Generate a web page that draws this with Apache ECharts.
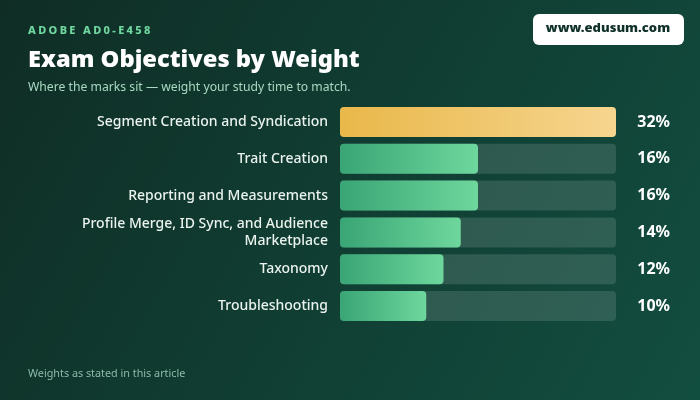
<!DOCTYPE html>
<html><head><meta charset="utf-8">
<script src="https://cdn.jsdelivr.net/npm/echarts@6/dist/echarts.min.js"></script>
<style>html,body{margin:0;padding:0;}#c{width:700px;height:400px;}</style>
</head><body><div id="c"></div>
<script>
const categories = ['Segment Creation and Syndication','Trait Creation','Reporting and Measurements','Profile Merge, ID Sync, and Audience\nMarketplace','Taxonomy','Troubleshooting'];
const weights = [32,16,16,14,12,10];
const percentLabels = ['32%','16%','16%','14%','12%','10%'];
const kicker = 'ADOBE AD0-E458';
const FONT = '"Noto Sans", "Open Sans", sans-serif';

const chart = echarts.init(document.getElementById('c'), null, {renderer:'canvas'});

// letter-spaced kicker
const ctx = document.createElement('canvas').getContext('2d');
ctx.font = '800 11px ' + FONT;
let kx = 28; const kickerEls = [];
for (const ch of kicker) {
  kickerEls.push({type:'text', left: kx, top: 25, style:{text: ch, fill:'#6fd6a0', font:'800 11px ' + FONT}});
  kx += ctx.measureText(ch).width + 2.35;
}

const gold = new echarts.graphic.LinearGradient(0,0,1,0,[{offset:0,color:'#e9b84a'},{offset:1,color:'#f6d58f'}]);
const green = new echarts.graphic.LinearGradient(0,0,1,0,[{offset:0,color:'#3aa575'},{offset:1,color:'#6ed79d'}]);

chart.setOption({
  backgroundColor: new echarts.graphic.LinearGradient(0,0,1,1,[{offset:0,color:'#0f2d25'},{offset:1,color:'#124e40'}]),
  animation:false,
  grid:{left:340, right:84, top:103.6, height:220.8},
  xAxis:{type:'value', min:0, max:32, show:false},
  yAxis:[{
    type:'category', inverse:true, data:categories,
    axisLine:{show:false}, axisTick:{show:false},
    axisLabel:{color:'#eaf3ee', fontSize:14, fontFamily:FONT, fontWeight:500, margin:12, lineHeight:17, align:'right'}
  },{
    type:'category', inverse:true, position:'right', data:percentLabels,
    axisLine:{show:false}, axisTick:{show:false},
    axisLabel:{color:'#ffffff', fontSize:16, fontFamily:FONT, fontWeight:'bold', margin:54, align:'right'}
  }],
  series:[{
    type:'bar', data: weights.map((v,i)=>({value:v, itemStyle:{color: i===0?gold:green}})),
    barWidth:30, showBackground:true,
    backgroundStyle:{color:'rgba(255,255,255,0.13)', borderRadius:4},
    itemStyle:{borderRadius:4}
  }],
  graphic:[
    ...kickerEls,
    {type:'text', left:28, top:48, style:{text:'Exam Objectives by Weight', fill:'#ffffff', font:'900 23.7px ' + FONT}},
    {type:'text', left:28, top:82, style:{text:'Where the marks sit \u2014 weight your study time to match.', fill:'#a9d9c2', font:'12.2px ' + FONT}},
    {type:'rect', left:533, top:14, shape:{width:151, height:31, r:6}, style:{fill:'#ffffff'}},
    {type:'text', x:608, y:22, style:{text:'www.edusum.com', fill:'#10302a', font:'900 13px ' + FONT, textAlign:'center'}},
    {type:'text', left:28, top:368, style:{text:'Weights as stated in this article', fill:'#8cbaa8', font:'10.8px ' + FONT}}
  ]
});
</script></body></html>
